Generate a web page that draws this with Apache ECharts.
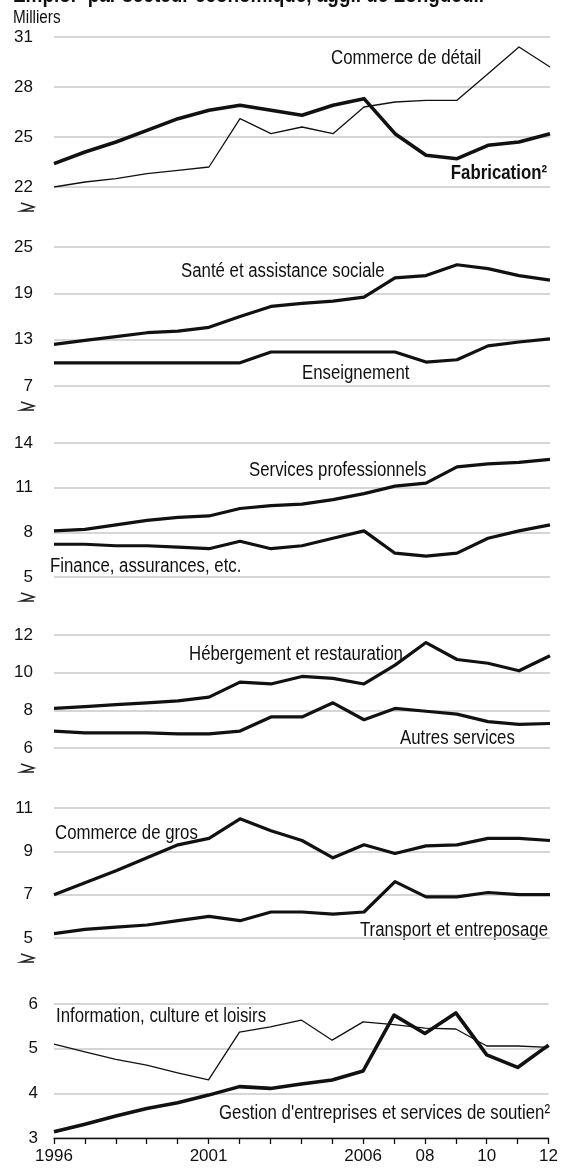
<!DOCTYPE html>
<html>
<head>
<meta charset="utf-8">
<script src="https://cdn.jsdelivr.net/npm/echarts@6/dist/echarts.min.js"></script>
<style>
  html, body { margin: 0; padding: 0; background: #fff; }
  #chart { width: 561px; height: 1171px; }
</style>
</head>
<body>
<div id="chart"></div>
<script>
// années (axe des x commun)
const years = ['1996', '1997', '1998', '1999', '2000', '2001', '2002', '2003', '2004',
  '2005', '2006', '2007', '2008', '2009', '2010', '2011', '2012'];
const yearLabels = { '1996': '1996', '2001': '2001', '2006': '2006', '2008': '08', '2010': '10', '2012': '12' };

// emploi, milliers
const fabrication = [23.4, 24.1, 24.7, 25.4, 26.1, 26.6, 26.9, 26.6, 26.3, 26.9, 27.3, 25.2, 23.9, 23.7, 24.5, 24.7, 25.2];
const commerceDetail = [22.0, 22.3, 22.5, 22.8, 23.0, 23.2, 26.1, 25.2, 25.6, 25.2, 26.8, 27.1, 27.2, 27.2, 28.8, 30.4, 29.2];
const sante = [12.4, 12.9, 13.4, 13.9, 14.1, 14.6, 16.0, 17.3, 17.7, 18.0, 18.5, 21.0, 21.3, 22.7, 22.2, 21.3, 20.7];
const enseignement = [10.0, 10.0, 10.0, 10.0, 10.0, 10.0, 10.0, 11.4, 11.4, 11.4, 11.4, 11.4, 10.1, 10.4, 12.2, 12.7, 13.1];
const servicesPro = [8.1, 8.2, 8.5, 8.8, 9.0, 9.1, 9.6, 9.8, 9.9, 10.2, 10.6, 11.1, 11.3, 12.4, 12.6, 12.7, 12.9];
const finance = [7.2, 7.2, 7.1, 7.1, 7.0, 6.9, 7.4, 6.9, 7.1, 7.6, 8.1, 6.6, 6.4, 6.6, 7.6, 8.1, 8.5];
const hebergement = [8.1, 8.2, 8.3, 8.4, 8.5, 8.7, 9.5, 9.4, 9.8, 9.7, 9.4, 10.4, 11.6, 10.7, 10.5, 10.1, 10.9];
const autresServices = [6.9, 6.8, 6.8, 6.8, 6.75, 6.75, 6.9, 7.65, 7.65, 8.4, 7.5, 8.1, 7.95, 7.8, 7.4, 7.25, 7.3];
const commerceGros = [7.0, 7.55, 8.1, 8.7, 9.3, 9.6, 10.5, 9.95, 9.5, 8.7, 9.3, 8.9, 9.25, 9.3, 9.6, 9.6, 9.5];
const transport = [5.2, 5.4, 5.5, 5.6, 5.8, 6.0, 5.8, 6.2, 6.2, 6.1, 6.2, 7.6, 6.9, 6.9, 7.1, 7.0, 7.0];
const information = [5.1, 4.93, 4.76, 4.63, 4.46, 4.3, 5.37, 5.49, 5.64, 5.19, 5.6, 5.54, 5.46, 5.44, 5.06, 5.06, 5.03];
const gestion = [3.14, 3.31, 3.49, 3.66, 3.79, 3.96, 4.15, 4.11, 4.21, 4.3, 4.5, 5.75, 5.34, 5.8, 4.86, 4.58, 5.08];

// graduations de chaque panneau
const ticks1 = [22, 25, 28, 31];
const ticks2 = [7, 13, 19, 25];
const ticks3 = [5, 8, 11, 14];
const ticks4 = [6, 8, 10, 12];
const ticks5 = [5, 7, 9, 11];
const ticks6 = [3, 4, 5, 6];

const FONT = '"Liberation Sans", Arial, sans-serif';
const NARROW = 0.84; // pas d'Arial Narrow installée : on comprime le texte
const panels = [
  { top: 37, height: 150, ticks: ticks1, margin: 21 },
  { top: 247, height: 139, ticks: ticks2, margin: 21 },
  { top: 443, height: 134, ticks: ticks3, margin: 21 },
  { top: 635, height: 113, ticks: ticks4, margin: 21 },
  { top: 808, height: 130, ticks: ticks5, margin: 21 },
  { top: 1004, height: 134, ticks: ticks6, margin: 16 }
];
const lines = [
  { data: fabrication, panel: 0, width: 3.6 },
  { data: commerceDetail, panel: 0, width: 1.3 },
  { data: sante, panel: 1, width: 3.2 },
  { data: enseignement, panel: 1, width: 3.2 },
  { data: servicesPro, panel: 2, width: 3.2 },
  { data: finance, panel: 2, width: 3.2 },
  { data: hebergement, panel: 3, width: 3.2 },
  { data: autresServices, panel: 3, width: 3.2 },
  { data: commerceGros, panel: 4, width: 3.2 },
  { data: transport, panel: 4, width: 3.2 },
  { data: information, panel: 5, width: 1.3 },
  { data: gestion, panel: 5, width: 3.6 }
];
// étiquettes : [texte, x, ligne de base, alignement, gras]
const labels = [
  ['Commerce de détail', 331, 65, 'left', false],
  ['Fabrication²', 547, 180, 'right', true],
  ['Santé et assistance sociale', 181, 278, 'left', false],
  ['Enseignement', 302, 380, 'left', false],
  ['Services professionnels', 249, 477, 'left', false],
  ['Finance, assurances, etc.', 50, 573, 'left', false],
  ['Hébergement et restauration', 189, 661, 'left', false],
  ['Autres services', 400, 745, 'left', false],
  ['Commerce de gros', 55, 840, 'left', false],
  ['Transport et entreposage', 548, 937, 'right', false],
  ['Information, culture et loisirs', 56, 1023, 'left', false],
  ["Gestion d'entreprises et services de soutien²", 550, 1120, 'right', false]
];

const last = panels.length - 1;
const graphic = [
  { type: 'text', x: 13, y: -4, scaleX: 0.86,
    style: { text: 'Emploi¹ par secteur économique, aggl. de Longueuil', font: 'bold 22px ' + FONT,
      fill: '#111', textVerticalAlign: 'middle' } },
  { type: 'text', x: 13, y: 18, scaleX: 0.85,
    style: { text: 'Milliers', font: '18px ' + FONT, fill: '#111', textVerticalAlign: 'middle' } }
];
labels.forEach(([text, x, base, align, bold]) => {
  graphic.push({
    type: 'text', x: x, y: base - 7, scaleX: NARROW,
    style: { text: text, font: (bold ? 'bold ' : '') + '20px ' + FONT, fill: '#111',
      textAlign: align, textVerticalAlign: 'middle' }
  });
});
// petits symboles de coupure d'axe
panels.slice(0, last).forEach(p => {
  const y0 = p.top + p.height + 16;
  graphic.push({
    type: 'polyline',
    shape: { points: [[21, y0], [34, y0 + 4], [21, y0 + 8], [34, y0 + 8]] },
    style: { stroke: '#222', lineWidth: 1.4, fill: null }
  });
});

const option = {
  animation: false,
  backgroundColor: '#fff',
  graphic: graphic,
  grid: panels.map(p => ({ left: 54, right: 11, top: p.top, height: p.height })),
  xAxis: panels.map((p, i) => ({
    type: 'category',
    gridIndex: i,
    data: years,
    boundaryGap: false,
    axisLine: { show: i === last, lineStyle: { color: '#111', width: 1.3 } },
    axisTick: { show: i === last, interval: 0, length: 6, lineStyle: { color: '#111', width: 1.3 } },
    axisLabel: {
      show: i === last, interval: 0, margin: 10,
      fontFamily: FONT, fontSize: 17, color: '#111',
      formatter: v => yearLabels[v] || ''
    },
    splitLine: { show: false }
  })),
  yAxis: panels.map((p, i) => ({
    type: 'value',
    gridIndex: i,
    min: p.ticks[0],
    max: p.ticks[p.ticks.length - 1],
    axisLine: { show: false },
    axisTick: { show: false, customValues: p.ticks },
    axisLabel: {
      customValues: p.ticks, margin: p.margin,
      fontFamily: FONT, fontSize: 17, color: '#111'
    },
    splitLine: { show: true, lineStyle: { color: '#c8c8c8', width: 1.5 } }
  })),
  series: lines.map(l => ({
    type: 'line',
    xAxisIndex: l.panel,
    yAxisIndex: l.panel,
    data: l.data,
    showSymbol: false,
    lineStyle: { color: '#111', width: l.width, join: 'round' },
    z: 3
  }))
};

const chart = echarts.init(document.getElementById('chart'));
chart.setOption(option);
</script>
</body>
</html>
